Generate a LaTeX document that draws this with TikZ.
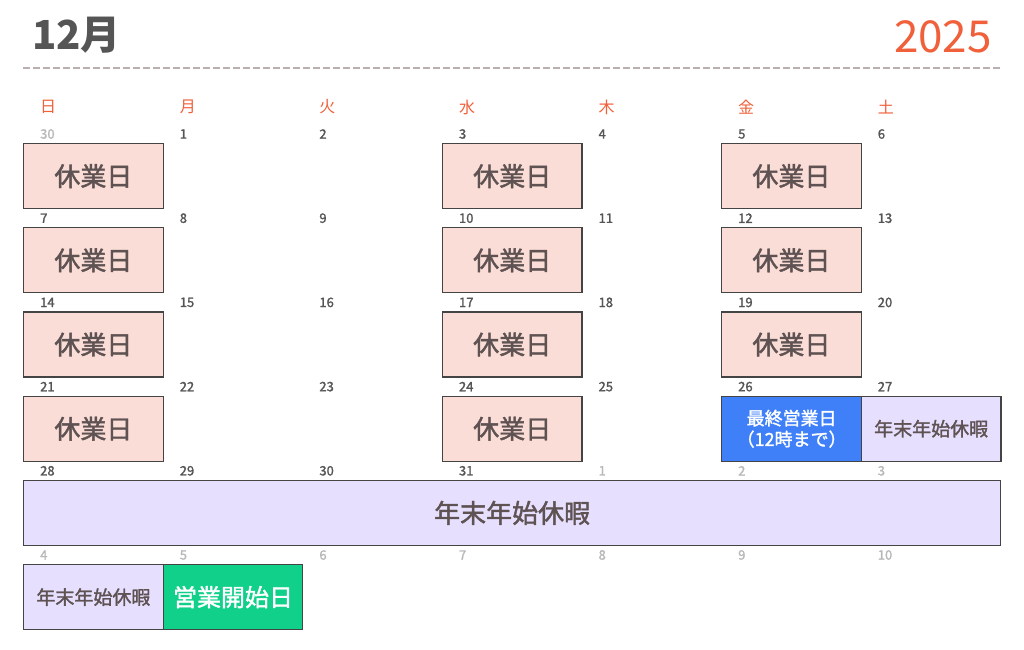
\documentclass[tikz,border=0pt]{standalone}
\usepackage{fontspec}
\setmainfont{Noto Sans CJK JP}
\newfontfamily\medfont[FakeBold=1.6]{Noto Sans CJK JP}
\usepackage{xcolor}
\usetikzlibrary{positioning}

\definecolor{hdrred}{HTML}{F0603A}
\definecolor{txtgray}{HTML}{5E5252}
\definecolor{numgray}{HTML}{555555}
\definecolor{othergray}{HTML}{B8B8B8}
\definecolor{dashgray}{HTML}{BBB0B0}
\definecolor{edgegray}{HTML}{444444}
\definecolor{closedpink}{HTML}{FADDD6}
\definecolor{breaklav}{HTML}{E6E0FE}
\definecolor{lastblue}{HTML}{3F7FF7}
\definecolor{startgreen}{HTML}{10D08A}

\tikzset{
  daybox/.style={draw=edgegray, line width=1.2pt, anchor=north west,
    minimum width=139.6pt, minimum height=65pt, inner sep=0pt, align=center},
  closed/.style={daybox, fill=closedpink, text=txtgray, font=\fontsize{26}{28}\medfont},
  winter/.style={daybox, fill=breaklav, text=txtgray, font=\fontsize{19}{21}\medfont},
  lastday/.style={daybox, fill=lastblue, text=white, font=\fontsize{18}{21}\medfont},
  firstday/.style={daybox, fill=startgreen, text=white, font=\fontsize{24}{26}\medfont},
  datenum/.style={anchor=west, inner sep=0pt, font=\fontsize{13}{13}\medfont},
  weekday/.style={anchor=west, inner sep=0pt, text=hdrred, font=\fontsize{16}{16}\selectfont}
}

\begin{document}
\begin{tikzpicture}[x=1pt, y=-1pt]
    \useasboundingbox (0,0) rectangle (1024,649);

    % Header
    \node[anchor=west, inner sep=0pt, text=numgray, font=\fontsize{40}{40}\selectfont\bfseries] (month) at (32,35) {12月};
    \node[anchor=east, inner sep=0pt, text=hdrred, font=\fontsize{44}{44}\selectfont] (year) at (992,37) {2025};
    \coordinate (ruleL) at (23,68);
    \coordinate (ruleR) at (1000,68);
    \draw[dashgray, line width=1.5pt, dash pattern=on 7pt off 3pt] (ruleL) -- (ruleR);

    % Weekday names
    \foreach \w [count=\c from 0] in {日,月,火,水,木,金,土} {
        \pgfmathsetmacro\cx{40+139.6*\c}
        \node[weekday] (wd\c) at (\cx,107) {\w};
    }

    % Date numbers (grey = other month)
    \foreach \r/\days in {
        0/{30/othergray,1/numgray,2/numgray,3/numgray,4/numgray,5/numgray,6/numgray},
        1/{7/numgray,8/numgray,9/numgray,10/numgray,11/numgray,12/numgray,13/numgray},
        2/{14/numgray,15/numgray,16/numgray,17/numgray,18/numgray,19/numgray,20/numgray},
        3/{21/numgray,22/numgray,23/numgray,24/numgray,25/numgray,26/numgray,27/numgray},
        4/{28/numgray,29/numgray,30/numgray,31/numgray,1/othergray,2/othergray,3/othergray},
        5/{4/othergray,5/othergray,6/othergray,7/othergray,8/othergray,9/othergray,10/othergray}} {
        \foreach \d/\col [count=\c from 0] in \days {
            \pgfmathsetmacro\cx{40+139.6*\c}
            \pgfmathsetmacro\cy{134+84.2*\r}
            \node[datenum, text=\col] (d\r-\c) at (\cx,\cy) {\d};
        }
    }

    % Closed days (Sun / Wed / Fri)
    \foreach \c/\n in {0/3, 3/3, 5/2} {
        \foreach \r in {0,...,\n} {
            \pgfmathsetmacro\cx{23+139.6*\c}
            \pgfmathsetmacro\cy{143+84.2*\r}
            \node[closed] (off\r-\c) at (\cx,\cy) {休業日};
        }
    }

    % Year-end
    \node[lastday] (last) at (721.2,395.6) {最終営業日\\（12時まで）};
    \node[winter] (break1) at (860.8,395.6) {年末年始休暇};
    \node[winter, minimum width=977pt, font=\fontsize{26}{28}\medfont] (break2) at (23,479.8) {年末年始休暇};
    \node[winter] (break3) at (23,564) {年末年始休暇};
    \node[firstday] (first) at (162.6,564) {営業開始日};
\end{tikzpicture}
\end{document}
